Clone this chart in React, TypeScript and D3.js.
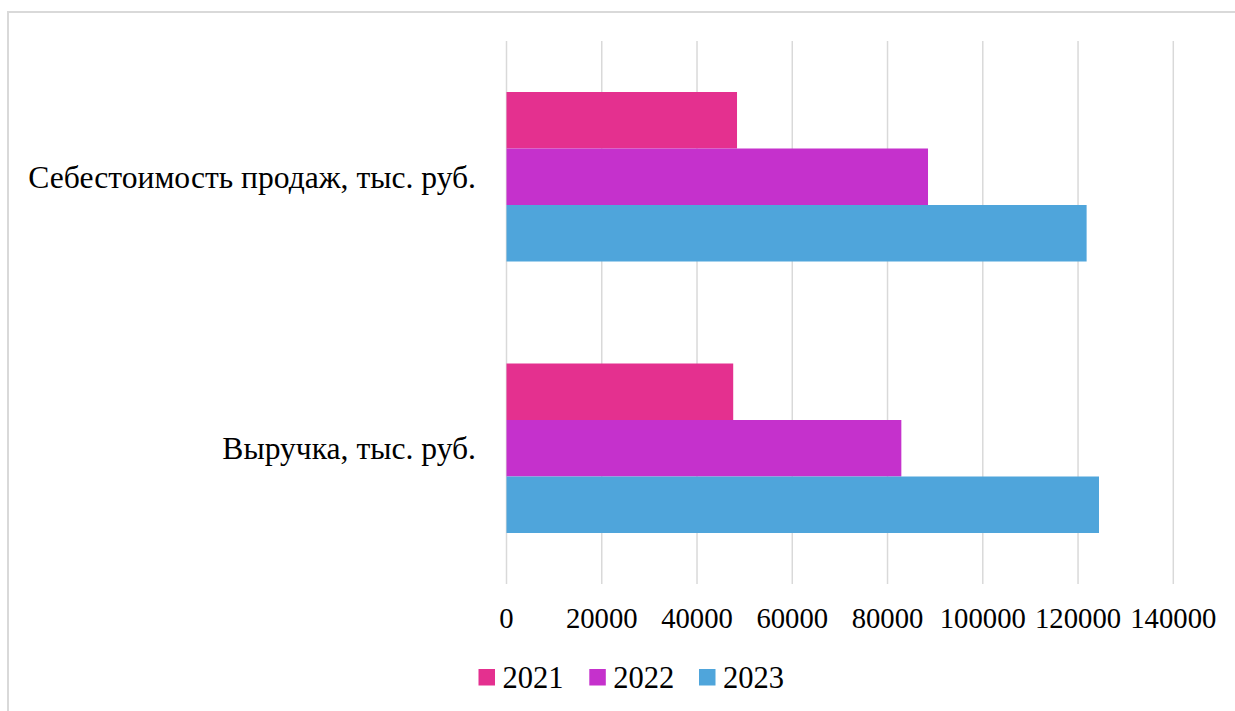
import React from "react";
import * as d3 from "d3";

const categories = ["Себестоимость продаж, тыс. руб.", "Выручка, тыс. руб."];
const seriesNames = ["2021", "2022", "2023"];
const values2021 = [48400, 47600];
const values2022 = [88500, 82900];
const values2023 = [121800, 124400];
const tickValues = [0, 20000, 40000, 60000, 80000, 100000, 120000, 140000];
const colors = ["#E4308F", "#C531CC", "#4FA5DB"];

const seriesValues = [values2021, values2022, values2023];

export default function App() {
  const W = 1235;
  const H = 711;
  const x = d3.scaleLinear().domain([0, 140000]).range([506.5, 1173.3]);
  const y = d3
    .scaleBand<string>()
    .domain(categories)
    .range([41, 584])
    .paddingInner(0.3757)
    .paddingOuter(0.3757 / 2);
  const ys = d3.scaleBand<string>().domain(seriesNames).range([0, y.bandwidth()]).padding(0);
  const fam = "Liberation Serif";

  const legendX = [478.5, 589.3, 699];
  return (
    <svg
      width={W}
      height={H}
      style={{ position: "absolute", left: 0, top: 0, background: "#fff" }}
    >
      <rect x={8} y={12} width={W + 20} height={H + 20} fill="#fff" stroke="#d9d9d9" strokeWidth={2} />
      {tickValues.map((t) => (
        <line key={t} x1={x(t)} x2={x(t)} y1={41} y2={584} stroke="#d9d9d9" strokeWidth={1.5} />
      ))}
      {categories.map((c, ci) => (
        <g key={c} transform={`translate(0,${y(c)})`}>
          {seriesNames.map((s, si) => (
            <rect
              key={s}
              x={x(0)}
              y={ys(s)}
              width={x(seriesValues[si][ci]) - x(0)}
              height={ys.bandwidth()}
              fill={colors[si]}
            />
          ))}
        </g>
      ))}
      {categories.map((c) => (
        <text key={c} fontFamily={fam} x={476} y={(y(c) as number) + y.bandwidth() / 2 + 11} textAnchor="end" fontSize={31.6} fill="#000">
          {c}
        </text>
      ))}
      {tickValues.map((t) => (
        <text key={t} fontFamily={fam} x={x(t)} y={628} textAnchor="middle" fontSize={28.7} fill="#000">
          {t}
        </text>
      ))}
      {seriesNames.map((s, i) => (
        <g key={s}>
          <rect x={legendX[i]} y={669} width={16.5} height={16.5} fill={colors[i]} />
          <text fontFamily={fam} x={legendX[i] + 24} y={688} fontSize={30.5} fill="#000">
            {s}
          </text>
        </g>
      ))}
    </svg>
  );
}
